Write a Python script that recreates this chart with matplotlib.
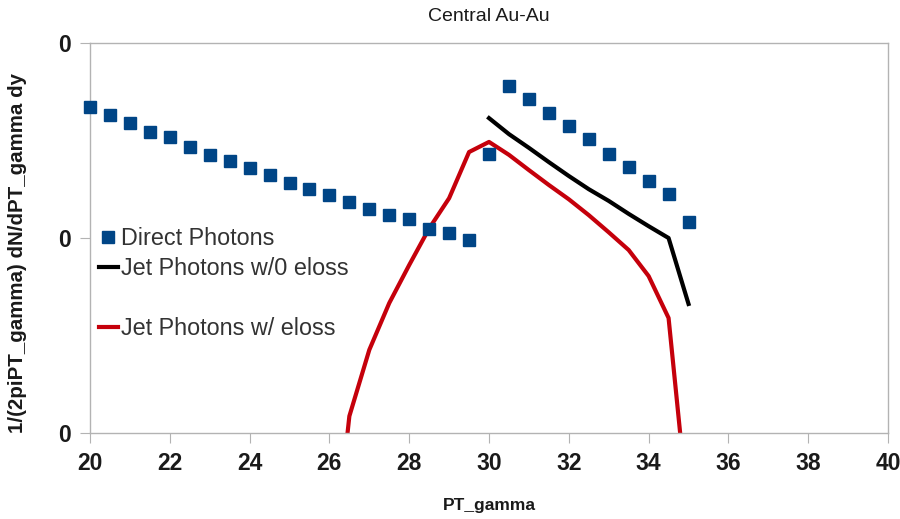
import numpy as np
import matplotlib
matplotlib.use("Agg")
import matplotlib.pyplot as plt
from matplotlib.ticker import FixedLocator, FixedFormatter, NullLocator

plt.rcParams['font.family'] = ['Liberation Sans', 'DejaVu Sans']

# direct photons (squares)
pt_direct = [20, 20.5, 21, 21.5, 22, 22.5, 23, 23.5, 24, 24.5, 25, 25.5, 26, 26.5, 27,
             27.5, 28, 28.5, 29, 29.5, 30, 30.5, 31, 31.5, 32, 32.5, 33, 33.5, 34, 34.5, 35]
direct = [4.70e-9, 4.28e-9, 3.89e-9, 3.50e-9, 3.30e-9, 2.93e-9, 2.67e-9, 2.48e-9, 2.29e-9,
          2.10e-9, 1.91e-9, 1.78e-9, 1.66e-9, 1.53e-9, 1.41e-9, 1.31e-9, 1.25e-9, 1.11e-9,
          1.06e-9, 9.77e-10, 2.70e-9, 6.02e-9, 5.16e-9, 4.38e-9, 3.75e-9, 3.22e-9, 2.70e-9,
          2.31e-9, 1.96e-9, 1.68e-9, 1.21e-9]

# jet photons without energy loss
pt_noloss = [30, 30.5, 31, 31.5, 32, 32.5, 33, 33.5, 34, 34.5, 35]
noloss = [4.12e-9, 3.41e-9, 2.90e-9, 2.45e-9, 2.08e-9, 1.78e-9, 1.55e-9, 1.33e-9,
          1.15e-9, 1.00e-9, 4.59e-10]

# jet photons with energy loss
pt_eloss = [26, 26.5, 27, 27.5, 28, 28.5, 29, 29.5, 30, 30.5, 31, 31.5, 32, 32.5, 33,
            33.5, 34, 34.5, 35]
eloss = [1.39e-11, 1.22e-10, 2.67e-10, 4.64e-10, 7.27e-10, 1.12e-9, 1.60e-9, 2.76e-9,
         3.11e-9, 2.67e-9, 2.23e-9, 1.87e-9, 1.58e-9, 1.31e-9, 1.07e-9, 8.68e-10,
         6.38e-10, 3.89e-10, 3.75e-11]

x_ticks = [20, 22, 24, 26, 28, 30, 32, 34, 36, 38, 40]
y_ticks = [1e-10, 1e-9, 1e-8]
y_labels = ["0", "0", "0"]

fig = plt.figure(figsize=(9, 5.19), dpi=100)
ax = fig.add_axes([0.1, 0.1657, 0.8867, 0.7514])

ax.plot(pt_direct, direct, linestyle='none', marker='s', markersize=8,
        color='#004586', label='Direct Photons', clip_on=False, zorder=4)
ax.plot(pt_noloss, noloss, color='black', lw=3, label='Jet Photons w/0 eloss')
ax.plot([], [], color='none', label=' ')
ax.plot(pt_eloss, eloss, color='#c5000b', lw=3, label='Jet Photons w/ eloss')

ax.set_yscale('log')
ax.set_xlim(20, 40)
ax.set_ylim(1e-10, 1e-8)
ax.xaxis.set_major_locator(FixedLocator(x_ticks))
ax.yaxis.set_major_locator(FixedLocator(y_ticks))
ax.yaxis.set_major_formatter(FixedFormatter(y_labels))
ax.yaxis.set_minor_locator(NullLocator())

for s in ax.spines.values():
    s.set_color('#b3b3b3')
    s.set_linewidth(1)
ax.tick_params(axis='both', direction='out', length=7, color='#b3b3b3',
               labelsize=16.5, labelcolor='#1a1a1a', pad=7)
for lab in ax.get_xticklabels() + ax.get_yticklabels():
    lab.set_fontweight('bold')

ax.set_title('Central Au-Au', fontsize=14, pad=16, color='#1a1a1a')
ax.set_xlabel('PT_gamma', fontsize=12.5, fontweight='bold', labelpad=16, color='#1a1a1a')
ax.set_ylabel('1/(2piPT_gamma) dN/dPT_gamma dy', fontsize=14.8, fontweight='bold',
              color='#1a1a1a')
ax.yaxis.set_label_coords(-0.079, 0.4615)

leg = ax.legend(loc='upper left', bbox_to_anchor=(-0.009, 0.57), frameon=False,
                fontsize=16.8, handlelength=0.8, handletextpad=0.15, labelspacing=0.3,
                borderaxespad=0.3)
for t in leg.get_texts():
    t.set_color('#333333')

fig.savefig('out.png', dpi=100)
